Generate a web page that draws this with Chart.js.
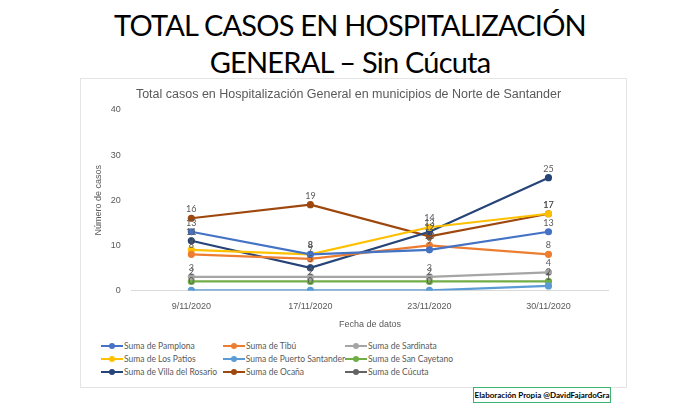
<!DOCTYPE html>
<html><head><meta charset="utf-8">
<script src="https://cdn.jsdelivr.net/npm/chart.js@4"></script>
<style>
body{margin:0;width:700px;height:405px;background:#fff;font-family:Lato,"Open Sans",sans-serif;position:relative;overflow:hidden}
h1{margin:0;position:absolute;top:6px;left:0;width:700px;text-align:center;font-weight:400;font-size:29px;line-height:37px;color:#000;letter-spacing:-0.8px}
#box{position:absolute;left:80px;top:78px;width:545px;height:308px;border:1px solid #e4e4e4}
#wrap{position:absolute;left:0;top:0;width:545px;height:255px}
#leg{position:absolute;left:20px;top:262px;display:grid;grid-template-columns:122px 122px 130px;row-gap:3px;font-size:8.5px;color:#595959}
#leg span{display:flex;align-items:center;white-space:nowrap}
#leg i{display:inline-block;width:22px;height:2px;margin-right:1px;position:relative}
#leg i b{position:absolute;left:8px;top:-2px;width:6px;height:6px;border-radius:3px}
#foot{position:absolute;left:473px;top:387px;width:136px;height:14px;border:1px solid #3cb371;font-size:8px;font-weight:bold;text-align:center;line-height:14px;color:#000}
</style></head><body>
<h1>TOTAL CASOS EN HOSPITALIZACIÓN<br>GENERAL – Sin Cúcuta</h1>
<div id="box"><div id="wrap"><canvas id="c"></canvas></div><div id="leg"></div></div>
<div id="foot">Elaboración Propia @DavidFajardoGra</div>
<script>
const fechas = ['9/11/2020','17/11/2020','23/11/2020','30/11/2020'];
const series = ['Suma de Pamplona','Suma de Tibú','Suma de Sardinata','Suma de Los Patios','Suma de Puerto Santander','Suma de San Cayetano','Suma de Villa del Rosario','Suma de Ocaña','Suma de Cúcuta'];
const colores = ['#4472c4','#ed7d31','#a5a5a5','#ffc000','#5b9bd5','#70ad47','#264478','#9e480e','#636363'];
const pamplona = [13,8,9,13];
const tibu = [8,7,10,8];
const sardinata = [3,3,3,4];
const losPatios = [9,8,14,17];
const puertoSantander = [0,0,0,1];
const sanCayetano = [2,2,2,2];
const villaRosario = [11,5,13,25];
const ocana = [16,19,12,17];
const cucuta = [null,null,null,null];
const valores = [pamplona,tibu,sardinata,losPatios,puertoSantander,sanCayetano,villaRosario,ocana,cucuta];

const leg = document.getElementById('leg');
series.forEach((s,i)=>{leg.innerHTML += `<span><i style="background:${colores[i]}"><b style="background:${colores[i]}"></b></i>${s}</span>`;});

const etiquetas = {
  id:'etiquetas',
  afterDatasetsDraw(chart){
    const ctx = chart.ctx;
    ctx.save();
    ctx.font = '9px Lato, sans-serif';
    ctx.fillStyle = '#595959';
    ctx.textAlign = 'center';
    chart.data.datasets.forEach((d,i)=>{
      chart.getDatasetMeta(i).data.forEach((p,j)=>{
        if(d.data[j]==null) return;
        ctx.fillText(d.data[j], p.x, p.y-6);
      });
    });
    ctx.restore();
  }
};

new Chart(document.getElementById('c'),{
  type:'line',
  data:{labels:fechas,datasets:series.map((s,i)=>({label:s,data:valores[i],borderColor:colores[i],backgroundColor:colores[i],borderWidth:2.2,pointRadius:2.5,tension:0}))},
  options:{
    responsive:true,maintainAspectRatio:false,animation:false,
    layout:{padding:{left:8,right:18,top:4}},
    plugins:{
      legend:{display:false},
      title:{display:true,text:'Total casos en Hospitalización General en municipios de Norte de Santander',color:'#595959',font:{size:12.5,weight:'normal'},padding:{top:4,bottom:8}}
    },
    scales:{
      x:{offset:true,grid:{display:false},border:{color:'#d9d9d9'},ticks:{color:'#595959',font:{size:9}},
         title:{display:true,text:'Fecha de datos',color:'#595959',font:{size:9}}},
      y:{min:0,max:40,ticks:{stepSize:10,color:'#595959',font:{size:9}},grid:{display:false},border:{display:false},
         title:{display:true,text:'Número de casos',color:'#595959',font:{size:9}}}
    }
  },
  plugins:[etiquetas]
});
</script>
</body></html>
